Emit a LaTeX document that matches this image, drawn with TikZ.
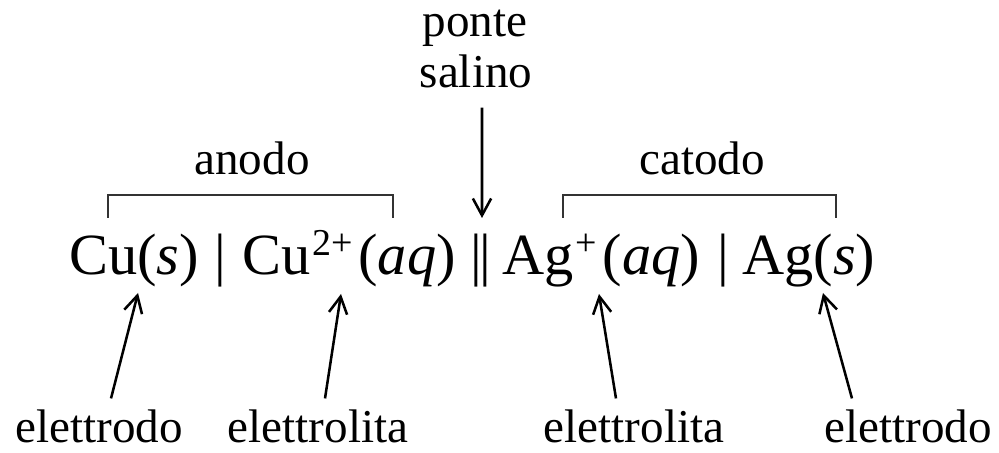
\documentclass[tikz,border=0pt]{standalone}
\usepackage{fontspec}
\setmainfont{Liberation Serif}
\usepackage{tikz}
\usetikzlibrary{arrows.meta, calc}

\newcommand{\ionch}[1]{\kern1.5pt\raisebox{14pt}{\fontsize{27}{29}\selectfont #1}\kern4pt}

\tikzset{
    lbl/.style={font=\fontsize{33.5}{36}\selectfont, anchor=base, inner sep=2pt},
    species/.style={font=\fontsize{41.5}{44}\selectfont, anchor=base west, inner sep=0pt},
    sepbar/.style={font=\fontsize{41.5}{44}\selectfont, anchor=base, inner sep=0pt},
    pointer/.style={-{Straight Barb[length=12pt, width=13pt]}, line width=1.8pt},
    bracket/.style={line width=0.8pt, black!80}
}

\begin{document}
\begin{tikzpicture}[x=0.025cm, y=0.025cm]
        \useasboundingbox (0,0) rectangle (999,453);
        % cell notation
        \node[species] (cus)  at (69,178)  {Cu(\textit{s})};
        \node[sepbar]  (bar1) at (220,178) {|};
        \node[species] (cuaq) at (242,178) {Cu\ionch{2+}(\textit{aq})};
        \node[sepbar]  (salt) at (481,178) {|\kern-0.05em|};
        \node[species] (agaq) at (502,178) {Ag\ionch{+}(\textit{aq})};
        \node[sepbar]  (bar2) at (723,178) {|};
        \node[species] (ags)  at (742,178) {Ag(\textit{s})};
        % half cells
        \node[lbl] (anodo)  at (252,278) {anodo};
        \node[lbl] (catodo) at (702,278) {catodo};
        \draw[bracket] (108,235) |- (393,258) -- (393,235);
        \draw[bracket] (563,235) |- (836,258) -- (836,235);
        % salt bridge
        \node[lbl] (ponte)  at (475,416) {ponte};
        \node[lbl] (salino) at (476,365) {salino};
        \coordinate (bridge) at (482,235);
        \draw[pointer] ([xshift=0.15cm, yshift=-0.4cm]salino.south) -- (bridge);
        % bottom labels
        \node[lbl] (el1) at (99,10)  {elettrodo};
        \node[lbl] (ly1) at (318,10) {elettrolita};
        \node[lbl] (ly2) at (634,10) {elettrolita};
        \node[lbl] (el2) at (908,10) {elettrodo};
        \coordinate (tip1) at (138,160);
        \coordinate (tip2) at (341,159);
        \coordinate (tip3) at (599,159);
        \coordinate (tip4) at (823,160);
        \draw[pointer] ([xshift=0.3cm, yshift=0.22cm]el1.north)   -- (tip1);
        \draw[pointer] ([xshift=0.175cm, yshift=0.22cm]ly1.north) -- (tip2);
        \draw[pointer] ([xshift=-0.45cm, yshift=0.22cm]ly2.north) -- (tip3);
        \draw[pointer] ([xshift=-1.4cm, yshift=0.22cm]el2.north)  -- (tip4);
\end{tikzpicture}
\end{document}
